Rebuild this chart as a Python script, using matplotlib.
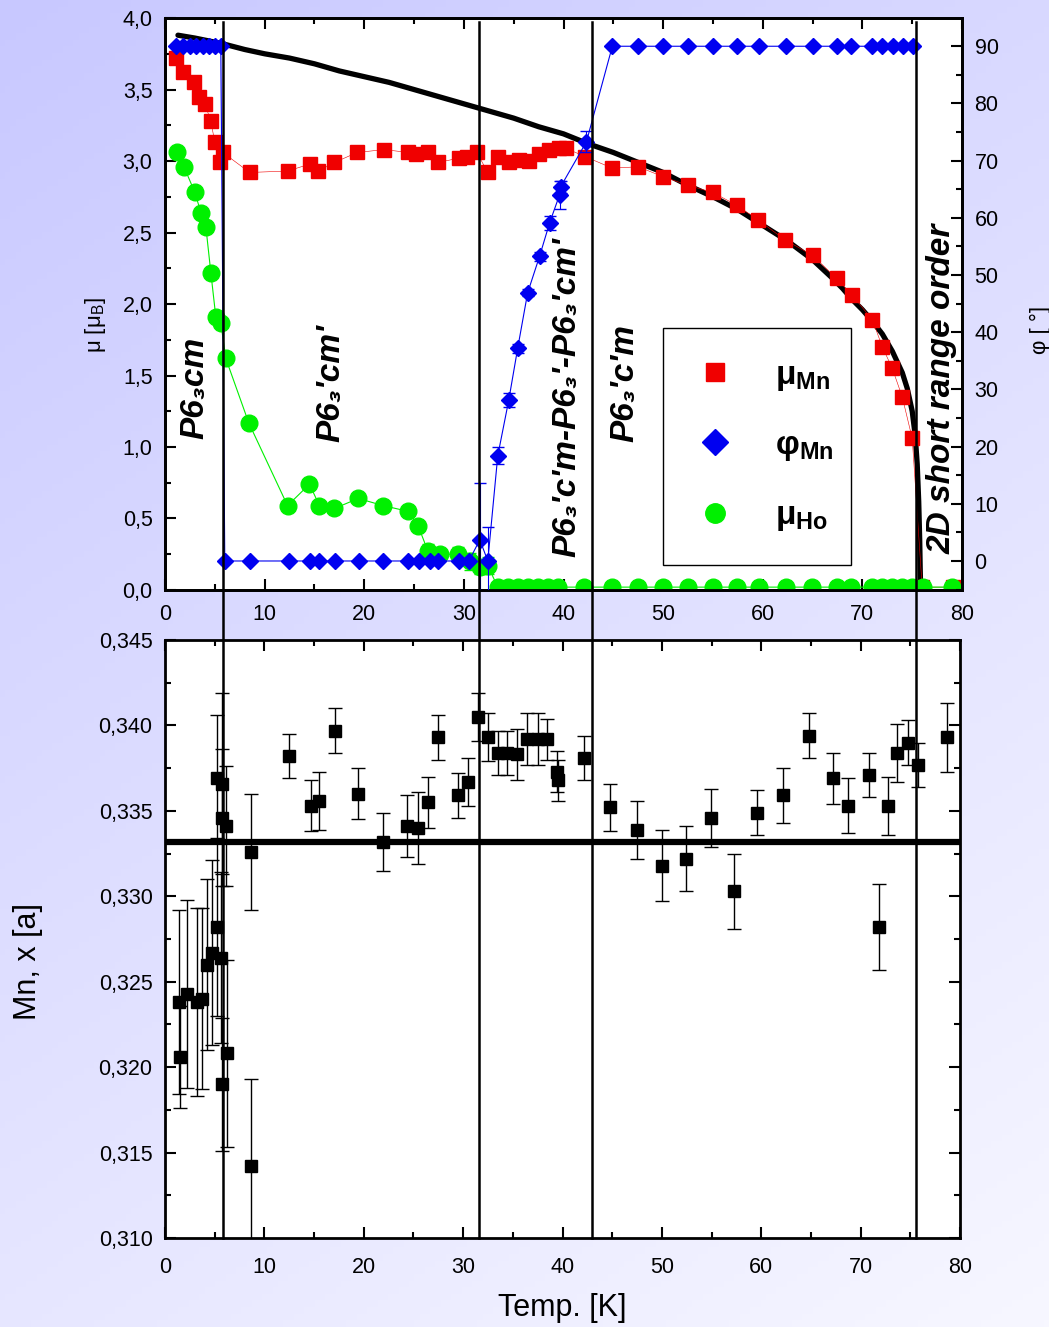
import numpy as np
import matplotlib
matplotlib.use('Agg')
import matplotlib.pyplot as plt
from matplotlib.lines import Line2D
from matplotlib.ticker import MultipleLocator, FuncFormatter
import matplotlib.transforms as mtransforms

plt.rcParams['font.family'] = ['Liberation Sans', 'DejaVu Sans']
plt.rcParams['mathtext.fontset'] = 'custom'
plt.rcParams['mathtext.rm'] = 'Liberation Sans'
plt.rcParams['mathtext.it'] = 'Liberation Sans:italic'
plt.rcParams['mathtext.bf'] = 'Liberation Sans:bold'
plt.rcParams['mathtext.sf'] = 'Liberation Sans:bold'

# ---------------- data: top panel ----------------
mn_T = [1.1, 1.8, 2.9, 3.4, 4.0, 4.6, 5.0, 5.5, 5.8, 8.5, 12.3, 14.6, 15.4, 17.0, 19.3,
        22.0, 24.4, 25.2, 26.4, 27.4, 29.5, 30.3, 31.3, 32.4, 33.4, 34.5, 35.5, 36.5,
        37.5, 38.5, 39.5, 40.2, 42.2, 44.9, 47.5, 50.0, 52.5, 55.0, 57.4, 59.5, 62.2,
        65.0, 67.4, 69.0, 71.0, 72.0, 73.0, 74.0, 75.0, 76.0, 79.1]
mn_mu = [3.72, 3.62, 3.55, 3.45, 3.40, 3.28, 3.13, 2.99, 3.06, 2.92, 2.93, 2.98, 2.93,
         2.99, 3.06, 3.08, 3.06, 3.05, 3.06, 2.99, 3.02, 3.03, 3.06, 2.92, 3.03, 2.99,
         3.01, 3.00, 3.05, 3.08, 3.09, 3.09, 3.03, 2.95, 2.96, 2.89, 2.83, 2.78, 2.69,
         2.59, 2.45, 2.34, 2.18, 2.06, 1.89, 1.70, 1.55, 1.35, 1.06, 0.02, 0.02]

ho_T = [1.2, 1.9, 3.0, 3.6, 4.1, 4.6, 5.1, 5.6, 6.1, 8.4, 12.3, 14.5, 15.5, 17.0, 19.4,
        21.9, 24.4, 25.4, 26.4, 27.6, 29.4, 30.6, 31.6, 32.4, 33.4, 34.4, 35.4, 36.4,
        37.4, 38.4, 39.4, 42.1, 44.9, 47.5, 50.0, 52.5, 55.0, 57.4, 59.6, 62.3, 64.9,
        67.4, 68.9, 71.0, 72.0, 73.0, 74.0, 75.0, 76.1, 79.0]
ho_mu = [3.06, 2.96, 2.78, 2.64, 2.54, 2.22, 1.91, 1.87, 1.62, 1.17, 0.59, 0.74, 0.59,
         0.57, 0.64, 0.59, 0.55, 0.45, 0.27, 0.25, 0.25, 0.20, 0.16, 0.17, 0.02, 0.02,
         0.02, 0.02, 0.02, 0.02, 0.02, 0.02, 0.02, 0.02, 0.02, 0.02, 0.02, 0.02, 0.02,
         0.02, 0.02, 0.02, 0.02, 0.02, 0.02, 0.02, 0.02, 0.02, 0.02, 0.02]
ho_err = [0, 0, 0, 0, 0, 0, 0, 0, 0, 0, 0, 0, 0, 0, 0, 0, 0, 0, 0.05, 0.04, 0.05, 0.06,
          0.05, 0.06, 0, 0, 0, 0, 0, 0, 0, 0, 0, 0, 0, 0, 0, 0, 0, 0, 0, 0, 0, 0, 0, 0,
          0, 0, 0, 0]

phi_T = [1.1, 1.8, 2.5, 3.1, 3.8, 4.4, 5.0, 5.6,
         6.0, 8.5, 12.4, 14.6, 15.5, 17.1, 19.5, 21.9, 24.4, 25.5, 26.6, 27.4, 29.5, 30.5,
         31.6, 32.4, 33.4, 34.5, 35.4, 36.4, 37.6, 38.6, 39.6, 39.7, 42.3,
         44.9, 47.5, 50.0, 52.5, 55.0, 57.4, 59.6, 62.3, 65.0, 67.4, 68.9, 71.0, 72.0,
         73.1, 74.1, 75.1]
phi = [90, 90, 90, 90, 90, 90, 90, 90,
       0, 0, 0, 0, 0, 0, 0, 0, 0, 0, 0, 0, 0, 0,
       3.7, 0, 18.4, 28.1, 37.2, 46.9, 53.3, 59.1, 64.0, 65.4, 73.3,
       90, 90, 90, 90, 90, 90, 90, 90, 90, 90, 90, 90, 90, 90, 90, 90]
phi_err = [0, 0, 0, 0, 0, 0, 0, 0,
           0, 0, 0, 0, 0, 0, 0, 0, 0, 0, 0, 0, 0, 0,
           10.0, 6.0, 1.5, 1.2, 0.8, 0.6, 0.8, 1.2, 2.5, 1.0, 1.8,
           0, 0, 0, 0, 0, 0, 0, 0, 0, 0, 0, 0, 0, 0, 0, 0]

fit_T = [1.3, 3.0, 5.8, 8.0, 10.0, 12.5, 15.0, 17.5, 20.0, 22.5, 25.0, 27.5, 30.0, 32.5,
         35.0, 37.5, 40.0, 42.5, 45.0, 47.5, 50.0, 52.5, 55.0, 57.5, 60.0, 62.5, 65.0,
         67.0, 68.0, 69.0, 70.0, 71.0, 72.0, 73.0, 74.0, 74.5, 75.0, 75.3, 75.5, 75.65,
         75.75, 75.8, 75.85]
fit_mu = [3.88, 3.86, 3.82, 3.78, 3.75, 3.72, 3.68, 3.63, 3.59, 3.55, 3.50, 3.45, 3.40,
          3.35, 3.30, 3.24, 3.19, 3.12, 3.06, 2.99, 2.92, 2.83, 2.75, 2.66, 2.55, 2.44,
          2.31, 2.18, 2.11, 2.03, 1.96, 1.88, 1.79, 1.67, 1.52, 1.41, 1.25, 1.08, 0.88,
          0.62, 0.35, 0.15, 0.0]

# ---------------- data: bottom panel ----------------
x_T = [1.4, 1.5, 2.2, 3.2, 3.7, 4.2, 4.7, 5.2, 5.2, 5.6, 5.7, 5.7, 5.7, 6.1, 6.2, 8.7,
       8.7, 12.5, 14.7, 15.5, 17.1, 19.4, 21.9, 24.4, 25.5, 26.5, 27.5, 29.5, 30.5, 31.5,
       32.5, 33.5, 34.4, 35.4, 36.4, 37.5, 38.4, 39.4, 39.5, 42.2, 44.8, 47.5, 50.0,
       52.4, 54.9, 57.3, 59.6, 62.2, 64.8, 67.2, 68.7, 70.8, 71.8, 72.8, 73.7, 74.8,
       75.8, 78.7]
x_val = [0.3238, 0.3206, 0.3243, 0.3238, 0.3240, 0.3260, 0.3267, 0.3282, 0.3369, 0.3264,
         0.3366, 0.3346, 0.3190, 0.3341, 0.3208, 0.3326, 0.3142, 0.3382, 0.3353, 0.3356,
         0.3397, 0.3360, 0.3332, 0.3341, 0.3340, 0.3355, 0.3393, 0.3359, 0.3367, 0.3405,
         0.3393, 0.3384, 0.3384, 0.3383, 0.3392, 0.3392, 0.3392, 0.3373, 0.3368, 0.3381,
         0.3352, 0.3339, 0.3318, 0.3322, 0.3346, 0.3303, 0.3349, 0.3359, 0.3394, 0.3369,
         0.3353, 0.3371, 0.3282, 0.3353, 0.3384, 0.3390, 0.3377, 0.3393]
x_err = [0.0054, 0.0030, 0.0055, 0.0055, 0.0053, 0.0050, 0.0054, 0.0052, 0.0037, 0.0050,
         0.0053, 0.0040, 0.0039, 0.0035, 0.0055, 0.0034, 0.0051, 0.0013, 0.0015, 0.0017,
         0.0013, 0.0015, 0.0017, 0.0018, 0.0021, 0.0015, 0.0013, 0.0013, 0.0014, 0.0014,
         0.0014, 0.0013, 0.0013, 0.0015, 0.0015, 0.0015, 0.0012, 0.0012, 0.0012, 0.0013,
         0.0014, 0.0017, 0.0021, 0.0019, 0.0017, 0.0022, 0.0013, 0.0016, 0.0013, 0.0015,
         0.0016, 0.0013, 0.0025, 0.0017, 0.0017, 0.0013, 0.0013, 0.0020]
x_ideal = 0.3332

transition_T = [5.8, 31.6, 43.0, 75.6]

phase_labels = ["P6₃cm", "P6₃'cm'", "P6₃'c'm-P6₃'-P6₃'cm'", "P6₃'c'm", "2D short range order"]
phase_T = [3.0, 16.7, 40.3, 46.2, 78.0]
phase_mu = [1.41, 1.45, 1.35, 1.45, 1.41]

legend_labels = [r'$\mathsf{\mu_{Mn}}$', r'$\mathsf{\varphi_{Mn}}$', r'$\mathsf{\mu_{Ho}}$']

RED = '#f00000'
BLUE = '#0000f0'
GREEN = '#00f000'
TICKFS = 15.5

comma = FuncFormatter(lambda v, p: ('%.1f' % v).replace('.', ','))
comma3 = FuncFormatter(lambda v, p: ('%.3f' % v).replace('.', ','))

fig = plt.figure(figsize=(10.49, 13.27), dpi=100)

# background gradient
bg = fig.add_axes([0, 0, 1, 1], zorder=-10)
yy, xx = np.mgrid[0:1:200j, 0:1:200j]
t = 0.65 * yy + 0.35 * xx
c0 = np.array([200, 200, 255]) / 255.0
c1 = np.array([247, 247, 255]) / 255.0
img = c0 + (c1 - c0) * t[..., None]
bg.imshow(img, aspect='auto', extent=[0, 1, 0, 1], origin='upper')
bg.axis('off')


def style(ax):
    for s in ax.spines.values():
        s.set_linewidth(2.0)
    ax.tick_params(which='both', direction='in', width=1.5, labelsize=TICKFS)
    ax.tick_params(which='major', length=8)
    ax.tick_params(which='minor', length=4)


# ---------------- top panel ----------------
ax1 = fig.add_axes([0.1573, 0.5554, 0.7598, 0.4310])
ax1.set_facecolor('white')
ax1.set_xlim(0, 80)
ax1.set_ylim(0, 4)
ax1.xaxis.set_major_locator(MultipleLocator(10))
ax1.xaxis.set_minor_locator(MultipleLocator(5))
ax1.yaxis.set_major_locator(MultipleLocator(0.5))
ax1.yaxis.set_minor_locator(MultipleLocator(0.25))
ax1.yaxis.set_major_formatter(comma)
style(ax1)
ax1.tick_params(which='both', top=True, right=False)
ax1.tick_params(axis='y', pad=9)
ax1.tick_params(axis='x', pad=10)

ax1.plot(fit_T, fit_mu, color='black', lw=3.8, zorder=3, solid_capstyle='round',
         solid_joinstyle='round')
ax1.plot(mn_T, mn_mu, color=RED, lw=0.4, marker='s', ms=10.5, mec=RED, mfc=RED,
         zorder=4)
ax1.errorbar(ho_T, ho_mu, yerr=ho_err, color=GREEN, lw=0.8, marker='o', ms=12,
             mec=GREEN, mfc=GREEN, capsize=4, elinewidth=0.8, zorder=5)

ax2 = ax1.twinx()
ax2.set_ylim(-5.07, 94.93)
ax2.yaxis.set_minor_locator(MultipleLocator(5))
ax2.set_yticks([0, 10, 20, 30, 40, 50, 60, 70, 80, 90])
style(ax2)
ax2.tick_params(axis='y', pad=9)
ax2.errorbar(phi_T, phi, yerr=phi_err, color=BLUE, lw=0.8, marker='D', ms=8,
             mec=BLUE, mfc=BLUE, capsize=4, elinewidth=0.8, zorder=5)

for lab, tx, ty in zip(phase_labels, phase_T, phase_mu):
    ax2.text(tx, ty, lab, transform=ax1.transData, rotation=90, ha='center',
             va='center', fontsize=24, fontweight='bold', fontstyle='italic', zorder=6)

handles = [Line2D([], [], ls='none', marker='s', ms=13, color=RED),
           Line2D([], [], ls='none', marker='D', ms=13, color=BLUE),
           Line2D([], [], ls='none', marker='o', ms=14, color=GREEN)]
leg = ax2.legend(handles, legend_labels, loc='upper left',
                 bbox_to_anchor=(0.625, 0.458, 0.236, 0.0), mode='expand',
                 fontsize=24, frameon=True,
                 fancybox=False, edgecolor='black', framealpha=1,
                 borderpad=0.95, handlelength=1.2, handletextpad=1.2,
                 labelspacing=1.12, borderaxespad=0)
leg.get_frame().set_linewidth(1.0)
leg.set_zorder(20)

# ---------------- bottom panel ----------------
axb = fig.add_axes([0.1573, 0.06707, 0.7579, 0.45064])
axb.set_facecolor('white')
axb.set_xlim(0, 80)
axb.set_ylim(0.310, 0.345)
axb.xaxis.set_major_locator(MultipleLocator(10))
axb.xaxis.set_minor_locator(MultipleLocator(5))
axb.yaxis.set_major_locator(MultipleLocator(0.005))
axb.yaxis.set_minor_locator(MultipleLocator(0.0025))
axb.yaxis.set_major_formatter(comma3)
style(axb)
axb.tick_params(which='both', top=True, right=True)
axb.tick_params(axis='y', pad=9)
axb.tick_params(axis='x', pad=14)
axb.axhline(x_ideal, color='black', lw=4.5, zorder=3)
axb.errorbar(x_T, x_val, yerr=x_err, fmt='s', color='black', ms=9, capsize=5,
             elinewidth=1.0, capthick=1.0, zorder=4)

# transition lines across both panels
trans = mtransforms.blended_transform_factory(axb.transData, fig.transFigure)
for tt in transition_T:
    fig.add_artist(Line2D([tt, tt], [0.06707, 0.9834], transform=trans,
                          color='black', lw=1.8, zorder=10))

# axis labels
fig.text(95 / 1049, 1 - 325 / 1327, r'$\mathrm{\mu\ [\mu_B]}$', rotation=90,
         fontsize=16, ha='center', va='center')
fig.text(1040 / 1049, 1 - 330 / 1327, 'φ [ °]', rotation=90, fontsize=16,
         ha='center', va='center')
fig.text(28 / 1049, 1 - 962 / 1327, 'Mn, x [a]', rotation=90, fontsize=22,
         ha='center', va='center')
fig.text(562 / 1049, 1 - 1308 / 1327, 'Temp. [K]', fontsize=22, ha='center',
         va='center')

fig.savefig('out.png', dpi=100)
